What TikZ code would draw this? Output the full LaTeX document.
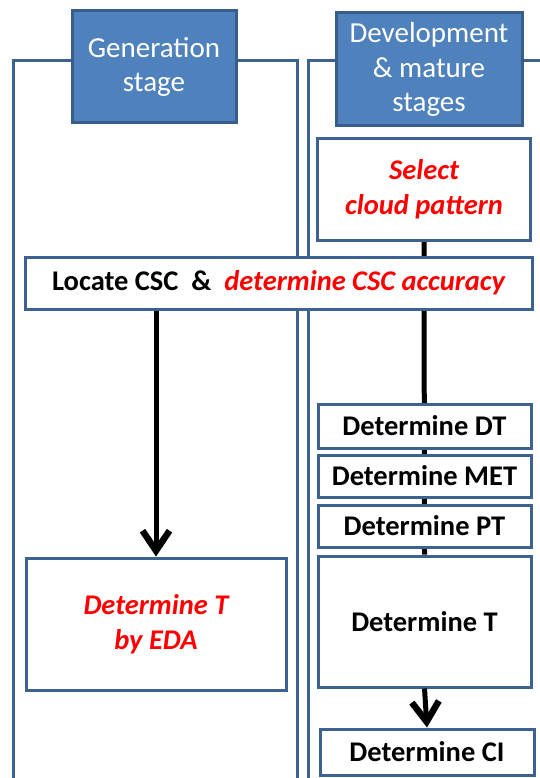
\documentclass[tikz,border=0pt]{standalone}
\usepackage{fontspec}
\setmainfont{Carlito}
\usetikzlibrary{arrows.meta,backgrounds}
\definecolor{laneblue}{RGB}{61,98,146}
\definecolor{headblue}{RGB}{79,129,189}
\definecolor{headline}{RGB}{56,93,138}

\begin{document}
\begin{tikzpicture}[x=1pt,y=-1pt,
    lane/.style={draw=laneblue, line width=3pt},
    box/.style={draw=laneblue, line width=3pt, fill=white, rectangle, align=center,
        inner sep=0pt, font=\fontsize{28.5}{35}\selectfont\bfseries},
    redtext/.style={text=red, font=\fontsize{28.5}{35}\selectfont\bfseries\itshape},
    header/.style={draw=headline, line width=3pt, fill=headblue, text=white, rectangle,
        align=center, inner sep=0pt, font=\fontsize{29}{34.5}\selectfont},
    arr/.style={line width=5pt, -{Straight Barb[length=20pt,width=27pt,line width=6.5pt]}}]
        \useasboundingbox (0,0) rectangle (540,778);
        % swim lanes
        \coordinate (L1) at (13,778);
        \coordinate (L2) at (13,61);
        \coordinate (L3) at (297,61);
        \coordinate (L4) at (297,778);
        \coordinate (R1) at (308,778);
        \coordinate (R2) at (308,61);
        \coordinate (R3) at (541,61);
        \draw [lane] (L1) -- (L2) -- (L3) -- (L4);
        \draw [lane] (R1) -- (R2) -- (R3);
        \node (genhead) [header, minimum width=164, minimum height=112] at (154,67) {Generation\\stage};
        \node (devhead) [header, minimum width=186, minimum height=113] at (429,69.5) {Development\\\& mature\\stages};
        % right lane steps
        \node (select) [box, redtext, minimum width=213, minimum height=101] at (424,189.5) {Select\\cloud pattern};
        \node (dt)  [box, minimum width=213, minimum height=44]  at (424.5,426) {Determine DT};
        \node (met) [box, minimum width=213, minimum height=42]  at (424.5,476) {Determine MET};
        \node (pt)  [box, minimum width=213, minimum height=42]  at (424.5,526) {Determine PT};
        \node (dett) [box, minimum width=213, minimum height=131] at (424.5,621.5) {Determine T};
        \node (ci)  [box, minimum width=214, minimum height=46]  at (427,752) {Determine CI};
        % left lane
        \node (eda) [box, redtext, minimum width=260, minimum height=132] at (156,624) {Determine T\\by EDA};
        \node (locate) [box, minimum width=507, minimum height=52] at (278.5,283)
            {Locate CSC\ \ \&\ \ \textcolor{red}{\itshape determine CSC accuracy}};
        \begin{pgfonlayer}{background}
            \draw [line width=5pt] (select.south) -- (dett.north);
        \end{pgfonlayer}
        \draw [arr] (locate.south -| eda.north) -- (eda.north);
        \draw [arr] (dett.south) -- (ci.north);
\end{tikzpicture}
\end{document}
